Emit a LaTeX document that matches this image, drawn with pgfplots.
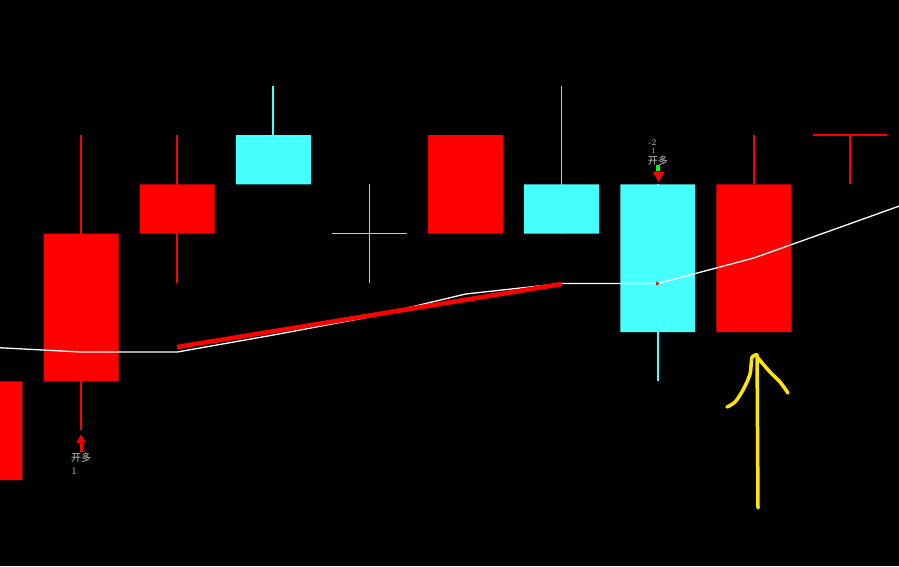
\documentclass[border=0pt]{standalone}
\usepackage{pgfplots}
\pgfplotsset{compat=1.18}
\usepackage{fontspec}
\newfontfamily\cjk{Noto Sans CJK SC}
\definecolor{kred}{RGB}{255,0,0}
\definecolor{kcyan}{RGB}{70,255,255}
\definecolor{kyellow}{RGB}{255,230,0}
\definecolor{ktext}{RGB}{200,200,200}
\begin{document}
\begin{tikzpicture}
\begin{axis}[
  scale only axis, width=899pt, height=566pt,
  xmin=0.157, xmax=9.510, ymin=1.256, ymax=12.739,
  axis background/.style={fill=black},
  axis line style={draw=none},
  xtick=\empty, ytick=\empty,
  clip=true,
]
% ---- wicks (x, high, low) ----
\addplot[draw=kred, line width=1.4pt] coordinates {(1,10) (1,4.015)};
\addplot[draw=kred, line width=1.4pt] coordinates {(2,10) (2,7)};
\addplot[draw=kcyan, line width=1.6pt] coordinates {(3,11) (3,9)};
\addplot[draw=kcyan, line width=1.6pt] coordinates {(4,9) (4,7)};
\addplot[draw=kcyan, line width=1.6pt] coordinates {(6,11) (6,8)};
\addplot[draw=kcyan, line width=1.6pt] coordinates {(7,9) (7,5)};
\addplot[draw=kred, line width=1.4pt] coordinates {(8,10) (8,9)};
\addplot[draw=kred, line width=1.4pt] coordinates {(9,10) (9,9)};
% ---- bodies (open/close) ----
\addplot[draw=none, fill=kred] coordinates {(-0.39,3) (0.39,3) (0.39,5) (-0.39,5) (-0.39,3)};
\addplot[draw=none, fill=kred] coordinates {(0.61,5) (1.39,5) (1.39,8) (0.61,8) (0.61,5)};
\addplot[draw=none, fill=kred] coordinates {(1.61,8) (2.39,8) (2.39,9) (1.61,9) (1.61,8)};
\addplot[draw=none, fill=kcyan] coordinates {(2.61,9) (3.39,9) (3.39,10) (2.61,10) (2.61,9)};
\addplot[draw=kcyan, line width=1.6pt] coordinates {(3.61,8) (4.39,8)};
\addplot[draw=none, fill=kred] coordinates {(4.61,8) (5.39,8) (5.39,10) (4.61,10) (4.61,8)};
\addplot[draw=none, fill=kcyan] coordinates {(5.61,8) (6.39,8) (6.39,9) (5.61,9) (5.61,8)};
\addplot[draw=none, fill=kcyan] coordinates {(6.61,6) (7.39,6) (7.39,9) (6.61,9) (6.61,6)};
\addplot[draw=none, fill=kred] coordinates {(7.61,6) (8.39,6) (8.39,9) (7.61,9) (7.61,6)};
\addplot[draw=kred, line width=1.4pt] coordinates {(8.61,10) (9.39,10)};
% ---- moving average ----
\addplot[draw=white, line width=1.3pt] coordinates {
 (0,5.70) (1,5.597) (2,5.597) (3,5.942) (4,6.308) (5,6.774)
 (6,6.987) (7,6.987) (8,7.505) (9,8.20) (10,8.90)};
% ---- red thick trend segment ----
\addplot[draw=kred, line width=4.5pt] coordinates {(2,5.699) (6,6.977)};
% ---- signal markers ----
\addplot[draw=kred, line width=3pt] coordinates {(1,3.569) (1,3.751)};
\addplot[only marks, mark=triangle*, mark size=5pt, mark options={fill=kred, draw=kred}] coordinates {(1,3.812)};
\addplot[draw=green, line width=4pt] coordinates {(7.0,9.391) (7.0,9.270)};
\addplot[only marks, mark=triangle*, mark size=6.3pt, mark options={rotate=180, fill=kred, draw=kred}] coordinates {(7.008,9.188)};
\addplot[only marks, mark=triangle*, mark size=2pt, mark options={rotate=-90, fill=kred, draw=kred}] coordinates {(6.995,6.987)};
% ---- hand-drawn yellow arrow ----
\addplot[draw=kyellow, line width=3.5pt, line cap=round] coordinates {(8.043,2.433) (8.033,5.537)};
\addplot[draw=kyellow, line width=3.5pt, line cap=round, line join=round, smooth] coordinates {
 (7.720,4.482) (7.804,4.583) (7.887,4.827) (7.960,5.151) (7.981,5.496) (8.033,5.537)};
\addplot[draw=kyellow, line width=3.5pt, line cap=round, line join=round, smooth] coordinates {
 (8.033,5.496) (8.168,5.192) (8.272,4.989) (8.355,4.766)};
% ---- texts ----
\node[text=ktext, font=\cjk\fontsize{10}{10}\selectfont, inner sep=0pt] at (axis cs:1,3.447) {开多};
\node[text=ktext, font=\fontsize{10}{10}\selectfont, inner sep=0pt] at (axis cs:0.927,3.183) {1};
\node[text=ktext, font=\fontsize{9}{9}\selectfont, inner sep=0pt] at (axis cs:6.945,9.85) {-2};
\node[text=kcyan!60!ktext, font=\fontsize{8}{8}\selectfont, inner sep=0pt] at (axis cs:6.955,9.67) {1};
\node[text=ktext, font=\cjk\fontsize{10}{10}\selectfont, inner sep=0pt] at (axis cs:7.0,9.48) {开多};
\end{axis}
\end{tikzpicture}
\end{document}
